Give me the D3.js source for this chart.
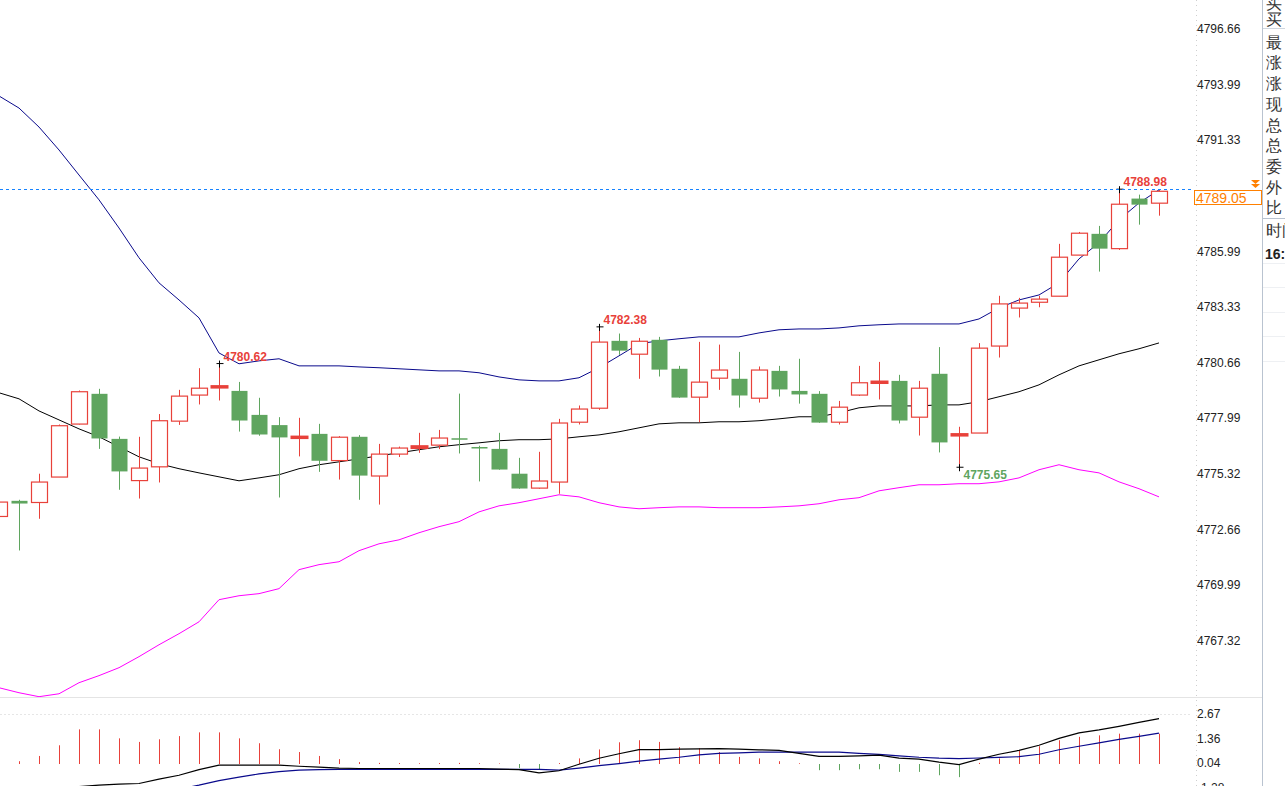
<!DOCTYPE html>
<html><head><meta charset="utf-8">
<script src="https://cdn.jsdelivr.net/npm/d3@7"></script>
<style>
body{margin:0;background:#fff;overflow:hidden}
text{font-family:"Liberation Sans",Arial,sans-serif}
</style></head>
<body><svg id="chart" width="1285" height="786"></svg>
<script>
// OHLC per bar, oldest first
const opens  = [4773.29,4774.04,4773.96,4775.18,4777.72,4779.17,4777.01,4775.01,4775.67,4777.86,4779.11,4779.48,4779.31,4778.16,4777.67,4777.08,4777.25,4775.97,4777.11,4775.23,4776.28,4776.57,4776.71,4777.04,4776.62,4776.53,4775.34,4774.65,4774.94,4777.81,4778.48,4781.71,4781.07,4781.76,4780.37,4779.01,4779.92,4779.89,4778.96,4780.27,4779.31,4779.17,4777.81,4779.11,4779.73,4779.79,4778.05,4780.13,4777.20,4777.29,4781.46,4783.28,4783.56,4783.85,4785.82,4786.84,4786.13,4788.53,4788.31];
const closes = [4773.98,4773.91,4774.94,4777.64,4779.27,4777.03,4775.45,4775.61,4777.88,4779.06,4779.44,4779.54,4777.89,4777.22,4777.08,4777.12,4775.96,4777.09,4775.25,4776.28,4776.57,4776.66,4777.05,4776.99,4776.57,4775.54,4774.63,4774.99,4777.77,4778.44,4781.65,4781.24,4781.69,4780.33,4778.99,4779.73,4780.31,4779.09,4780.31,4779.38,4779.14,4777.79,4778.53,4779.70,4779.76,4777.89,4779.44,4776.84,4777.24,4781.36,4783.48,4783.52,4783.71,4785.72,4786.87,4786.13,4788.26,4788.24,4788.88];
const highs  = [4774.09,4774.09,4775.34,4777.70,4779.33,4779.41,4777.12,4777.11,4778.20,4779.36,4780.40,4780.62,4779.74,4778.98,4778.05,4778.02,4777.73,4777.14,4777.19,4776.77,4776.64,4777.30,4777.44,4779.18,4776.68,4777.30,4776.10,4776.39,4777.97,4778.61,4782.38,4782.06,4781.85,4781.90,4780.51,4781.66,4781.53,4781.18,4780.48,4780.51,4780.85,4779.30,4778.83,4780.51,4780.70,4780.08,4779.79,4781.41,4777.59,4781.60,4783.87,4783.77,4783.87,4786.36,4786.93,4787.22,4788.98,4788.72,4788.95];
const lows   = [4773.23,4771.66,4773.18,4775.18,4777.70,4776.53,4774.57,4774.15,4774.92,4777.68,4778.66,4778.85,4777.36,4777.16,4774.20,4776.17,4775.43,4775.06,4774.09,4773.86,4776.14,4776.34,4776.52,4776.31,4774.97,4775.53,4774.62,4774.62,4774.38,4777.70,4778.40,4781.04,4779.89,4780.00,4778.98,4777.81,4779.36,4778.51,4778.75,4779.04,4778.70,4777.78,4777.70,4779.07,4778.90,4777.75,4777.17,4776.36,4775.65,4777.29,4780.91,4782.83,4783.32,4783.85,4785.82,4785.03,4786.07,4787.28,4787.71];

// Bollinger bands
const bollUpper = [4793.45,4792.87,4791.96,4790.86,4789.66,4788.47,4787.12,4785.69,4784.49,4783.67,4782.81,4781.13,4780.61,4780.75,4780.85,4780.51,4780.51,4780.51,4780.46,4780.42,4780.37,4780.32,4780.27,4780.27,4780.18,4779.98,4779.84,4779.79,4779.79,4779.94,4780.42,4780.99,4781.57,4781.71,4781.81,4781.90,4781.90,4781.90,4782.09,4782.24,4782.28,4782.28,4782.33,4782.43,4782.48,4782.52,4782.52,4782.52,4782.52,4782.76,4783.29,4783.67,4783.91,4784.49,4785.64,4786.41,4787.51,4788.32,4788.95];
const bollMid   = [4779.22,4778.93,4778.35,4777.92,4777.49,4777.11,4776.63,4776.15,4775.82,4775.58,4775.38,4775.19,4775.00,4775.14,4775.29,4775.58,4775.77,4775.91,4776.05,4776.20,4776.34,4776.49,4776.63,4776.73,4776.82,4776.92,4776.97,4776.97,4777.01,4777.11,4777.20,4777.35,4777.54,4777.73,4777.78,4777.78,4777.83,4777.83,4777.88,4777.97,4778.07,4778.07,4778.26,4778.50,4778.59,4778.59,4778.59,4778.64,4778.64,4778.79,4779.03,4779.27,4779.60,4780.08,4780.51,4780.80,4781.09,4781.33,4781.61];
const bollLower = [4765.08,4764.84,4764.65,4764.79,4765.32,4765.66,4766.04,4766.57,4767.14,4767.67,4768.24,4769.30,4769.49,4769.59,4769.83,4770.74,4770.98,4771.12,4771.65,4771.98,4772.17,4772.51,4772.80,4773.04,4773.51,4773.80,4773.95,4774.14,4774.33,4774.23,4773.95,4773.75,4773.66,4773.71,4773.75,4773.75,4773.71,4773.71,4773.71,4773.75,4773.80,4773.90,4774.09,4774.19,4774.52,4774.67,4774.81,4774.81,4774.86,4774.86,4774.95,4775.14,4775.53,4775.77,4775.53,4775.38,4774.95,4774.62,4774.23];

// MACD
const macdHist = [0,0.15,0.43,1.00,1.85,1.85,1.37,1.18,1.32,1.49,1.69,1.69,1.37,1.11,0.79,0.64,0.43,0.26,0.10,0.06,0.05,0.04,0.05,0.06,0.04,0.03,-0.22,-0.32,0.05,0.30,0.78,1.16,1.27,1.18,0.90,0.84,0.64,0.38,0.30,0.15,0.04,-0.33,-0.33,-0.28,-0.28,-0.42,-0.42,-0.60,-0.70,0.06,0.30,0.73,0.95,1.27,1.45,1.53,1.62,1.62,1.62];
const macdDif  = [-1.6,-1.5,-1.4,-1.3,-1.2,-1.13,-1.07,-1.04,-0.81,-0.60,-0.30,-0.06,-0.06,-0.06,-0.06,-0.12,-0.17,-0.22,-0.24,-0.24,-0.24,-0.24,-0.24,-0.24,-0.24,-0.27,-0.30,-0.47,-0.36,-0.01,0.31,0.55,0.77,0.77,0.79,0.81,0.82,0.79,0.76,0.73,0.57,0.41,0.41,0.44,0.47,0.31,0.26,0.10,-0.03,0.26,0.52,0.73,1.00,1.37,1.66,1.82,2.01,2.22,2.42];
const macdDea  = [-2.0,-1.95,-1.9,-1.85,-1.8,-1.7,-1.6,-1.5,-1.42,-1.34,-1.13,-0.89,-0.70,-0.53,-0.41,-0.33,-0.30,-0.29,-0.29,-0.29,-0.29,-0.29,-0.29,-0.29,-0.29,-0.29,-0.29,-0.29,-0.33,-0.22,-0.09,0.02,0.15,0.26,0.36,0.49,0.57,0.60,0.63,0.64,0.64,0.64,0.64,0.57,0.52,0.44,0.36,0.31,0.29,0.32,0.35,0.39,0.52,0.76,0.95,1.13,1.32,1.48,1.65];

const priceTicks = [4796.66,4793.99,4791.33,4785.99,4783.33,4780.66,4777.99,4775.32,4772.66,4769.99,4767.32];
const macdTicks = [2.67,1.36,0.04,-1.28];
const lastPrice = 4789.05;
// [bar index, kind, label]
const marks = [[11,"high","4780.62"],[30,"high","4782.38"],[48,"low","4775.65"],[56,"high","4788.98"]];
const sideLabels = ["买","买","最","涨","涨","现","总","总","委","外","比"];

const RED = "#e8413a", GREEN = "#5fa55f";
const svg = d3.select("#chart");
const x = d3.scaleLinear().domain([0, 58]).range([-1, 1159]);
const y = d3.scaleLinear().domain([4767.32, 4796.66]).range([641, 29]);
const ym = d3.scaleLinear().domain([-1.28, 2.67]).range([788, 714]);
const bw = 16;

const defs = svg.append("defs");
defs.append("clipPath").attr("id","cMain").append("rect").attr("x",0).attr("y",0).attr("width",1185).attr("height",697);
defs.append("clipPath").attr("id","cMacd").append("rect").attr("x",0).attr("y",698).attr("width",1185).attr("height",88);

// frame lines
svg.append("line").attr("x1",0).attr("x2",1262).attr("y1",697.5).attr("y2",697.5).attr("stroke","#e4e4e4");
svg.append("line").attr("x1",0).attr("x2",1190).attr("y1",714.5).attr("y2",714.5).attr("stroke","#e6e6e6").attr("stroke-dasharray","2,2");
svg.append("line").attr("x1",1196.5).attr("x2",1196.5).attr("y1",0).attr("y2",786).attr("stroke","#cfcfcf").attr("stroke-dasharray","1,4");
svg.append("line").attr("x1",1262.5).attr("x2",1262.5).attr("y1",0).attr("y2",786).attr("stroke","#b9c3d0");

const main = svg.append("g").attr("clip-path","url(#cMain)");
const idx = d3.range(opens.length);

const line = arr => d3.line().x((d,i)=>x(i)).y(d=>y(d))(arr);
main.append("path").attr("d", line(bollUpper)).attr("fill","none").attr("stroke","#0a0a8c").attr("stroke-width",1);
main.append("path").attr("d", line(bollMid)).attr("fill","none").attr("stroke","#000").attr("stroke-width",1);
main.append("path").attr("d", line(bollLower)).attr("fill","none").attr("stroke","#ff00ff").attr("stroke-width",1);

const bars = main.selectAll("g.bar").data(idx).join("g").attr("class","bar");
bars.each(function(i){
  const g = d3.select(this);
  const up = closes[i] >= opens[i];
  const c = up ? RED : GREEN;
  const cx = Math.round(x(i)) + 0.5;
  const top = y(Math.max(opens[i], closes[i])), bot = y(Math.min(opens[i], closes[i]));
  g.append("line").attr("x1",cx).attr("x2",cx).attr("y1",y(highs[i])).attr("y2",y(lows[i])).attr("stroke",c);
  const h = Math.max(bot - top, 1.5);
  if (up) {
    g.append("rect").attr("x",cx-bw/2).attr("y",top).attr("width",bw).attr("height",h)
      .attr("fill","#fff").attr("stroke",c).attr("stroke-width",h < 3 ? 2 : 1.2);
  } else {
    g.append("rect").attr("x",cx-bw/2).attr("y",top).attr("width",bw).attr("height",h).attr("fill",c);
  }
});

// high/low markers
marks.forEach(([i, kind, label]) => {
  const cx = Math.round(x(i)) + 0.5;
  const py = y(kind === "high" ? highs[i] : lows[i]);
  main.append("path").attr("d",`M${cx-3},${py}H${cx+4}M${cx},${py-3}V${py+4}`).attr("stroke","#000");
  main.append("text").attr("x",cx+4).attr("y", kind === "high" ? py-3 : py+12)
    .attr("font-size",12).attr("font-weight","bold").attr("fill", kind === "high" ? RED : GREEN).text(label);
});

// last price
svg.append("line").attr("x1",0).attr("x2",1194).attr("y1",189.5).attr("y2",189.5)
  .attr("stroke","#1683ff").attr("stroke-width",1.2).attr("stroke-dasharray","3,3");
svg.append("rect").attr("x",1194.5).attr("y",190.5).attr("width",67).attr("height",14).attr("fill","#fff").attr("stroke","#ff8000");
svg.append("text").attr("x",1196).attr("y",202.5).attr("font-family","Liberation Mono,monospace").attr("font-size",14)
  .attr("fill","#ff8000").text(lastPrice.toFixed(2));
svg.append("path").attr("d","M1251,180h9l-4.5,4zM1251,184h9l-4.5,4z").attr("fill","#ff8000");

// price axis
svg.selectAll("text.pt").data(priceTicks).join("text").attr("class","pt")
  .attr("x",1197).attr("y",d=>y(d)+4).attr("font-size",12).attr("fill","#222").text(d=>d.toFixed(2));
svg.selectAll("text.mt").data(macdTicks).join("text").attr("class","mt")
  .attr("x",1197).attr("y",d=>ym(d)+4).attr("font-size",12).attr("fill","#222").text(d=>d.toFixed(2));

// MACD panel
const mg = svg.append("g").attr("clip-path","url(#cMacd)");
mg.selectAll("line.h").data(idx).join("line").attr("class","h")
  .attr("x1",i=>Math.round(x(i))+0.5).attr("x2",i=>Math.round(x(i))+0.5)
  .attr("y1",ym(0)).attr("y2",i=>ym(macdHist[i]))
  .attr("stroke",i=>macdHist[i] >= 0 ? RED : GREEN);
const mline = d3.line().x((d,i)=>x(i)).y(d=>ym(d));
mg.append("path").attr("d", mline(macdDea)).attr("fill","none").attr("stroke","#0a0a8c").attr("stroke-width",1.2);
mg.append("path").attr("d", mline(macdDif)).attr("fill","none").attr("stroke","#000").attr("stroke-width",1.2);

// side info panel (cropped)
const side = svg.append("g");
sideLabels.forEach((s, k) => {
  side.append("text").attr("x",1266).attr("y", k === 0 ? 9 : 25 + (k-1)*20.7 - (k>1?-2:0))
    .attr("font-family","Noto Sans CJK SC").attr("font-size",16).attr("fill","#333").text(s);
});
side.append("line").attr("x1",1263).attr("x2",1285).attr("y1",28.5).attr("y2",28.5).attr("stroke","#cfd6de");
side.append("line").attr("x1",1263).attr("x2",1285).attr("y1",218.5).attr("y2",218.5).attr("stroke","#b9c3d0");
side.append("text").attr("x",1266).attr("y",236).attr("font-family","Noto Sans CJK SC").attr("font-size",16).attr("fill","#333").text("时间");
side.append("text").attr("x",1265).attr("y",259).attr("font-size",14).attr("font-weight","bold").attr("fill","#222").text("16:");
[263,287,312,336,361].forEach(v => side.append("line").attr("x1",1263).attr("x2",1285).attr("y1",v+0.5).attr("y2",v+0.5).attr("stroke","#eef0f3"));
</script></body></html>
